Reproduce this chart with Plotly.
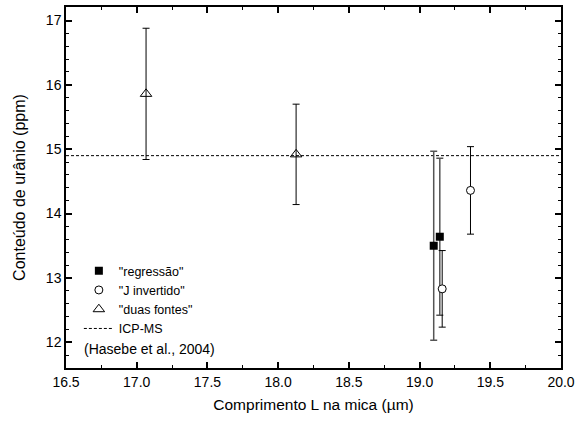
import plotly.graph_objects as go

# Uranium content estimates vs. track length L in mica
reg_x = [19.10, 19.143]
reg_y = [13.50, 13.64]
reg_err = [1.47, 1.22]

jinv_x = [19.36, 19.16]
jinv_y = [14.36, 12.83]
jinv_err = [0.68, 0.595]

duas_x = [17.066, 18.127]
duas_y = [15.86, 14.92]
duas_err = [1.02, 0.78]

icp_x = [16.5, 20.0]
icp_y = [14.9, 14.9]

font = "Liberation Sans, Arial, sans-serif"

fig = go.Figure()

fig.add_trace(go.Scatter(
    x=icp_x, y=icp_y, mode="lines", name="ICP-MS",
    line=dict(color="black", width=1, dash="3px,2px"),
    legendrank=4,
))
fig.add_trace(go.Scatter(
    x=duas_x, y=duas_y, mode="markers", name='"duas fontes"',
    marker=dict(symbol="triangle-up-open", size=10, color="black", line=dict(width=1)),
    error_y=dict(type="data", array=duas_err, color="black", thickness=1, width=3.5),
    legendrank=3,
))
fig.add_trace(go.Scatter(
    x=reg_x, y=reg_y, mode="markers", name='"regressão"',
    marker=dict(symbol="square", size=8, color="black"),
    error_y=dict(type="data", array=reg_err, color="#555555", thickness=1.5, width=3.5),
    legendrank=1,
))
fig.add_trace(go.Scatter(
    x=jinv_x, y=jinv_y, mode="markers", name='"J invertido"',
    marker=dict(symbol="circle", size=8, color="white", line=dict(color="black", width=1)),
    error_y=dict(type="data", array=jinv_err, color="black", thickness=1, width=3.5),
    legendrank=2,
))

axis_common = dict(
    showline=True, linecolor="black", linewidth=1.5, mirror="ticks",
    ticks="inside", ticklen=6, tickwidth=1.5, tickcolor="black",
    showgrid=False, zeroline=False,
    tickfont=dict(family=font, size=14, color="black"),
)

fig.update_xaxes(
    range=[16.5, 20.0], dtick=0.5, tickformat=".1f",
    minor=dict(ticks="inside", ticklen=3, dtick=0.25, tickcolor="black", tickwidth=1),
    title=dict(text="Comprimento L na mica (µm)", font=dict(family=font, size=15.5, color="black"), standoff=11),
    **axis_common,
)
fig.update_yaxes(
    range=[11.6, 17.21], dtick=1,
    minor=dict(ticks="inside", ticklen=3, dtick=0.2, tickcolor="black", tickwidth=1),
    title=dict(text="Conteúdo de urânio (ppm)", font=dict(family=font, size=16, color="black"), standoff=16),
    **axis_common,
)

fig.add_annotation(
    text="(Hasebe et al., 2004)", xref="paper", yref="paper",
    x=0.033, y=0.054, xanchor="left", yanchor="middle", showarrow=False,
    font=dict(family=font, size=14, color="black"),
)

fig.update_layout(
    width=587, height=423,
    margin=dict(l=66, r=26, t=5, b=55),
    paper_bgcolor="white", plot_bgcolor="white",
    showlegend=True,
    legend=dict(
        x=0.026, y=0.31, xanchor="left", yanchor="top",
        bgcolor="rgba(0,0,0,0)", borderwidth=0,
        font=dict(family=font, size=12.5, color="black"),
        tracegroupgap=0, itemwidth=30,
    ),
)

fig.write_html("out.html")
